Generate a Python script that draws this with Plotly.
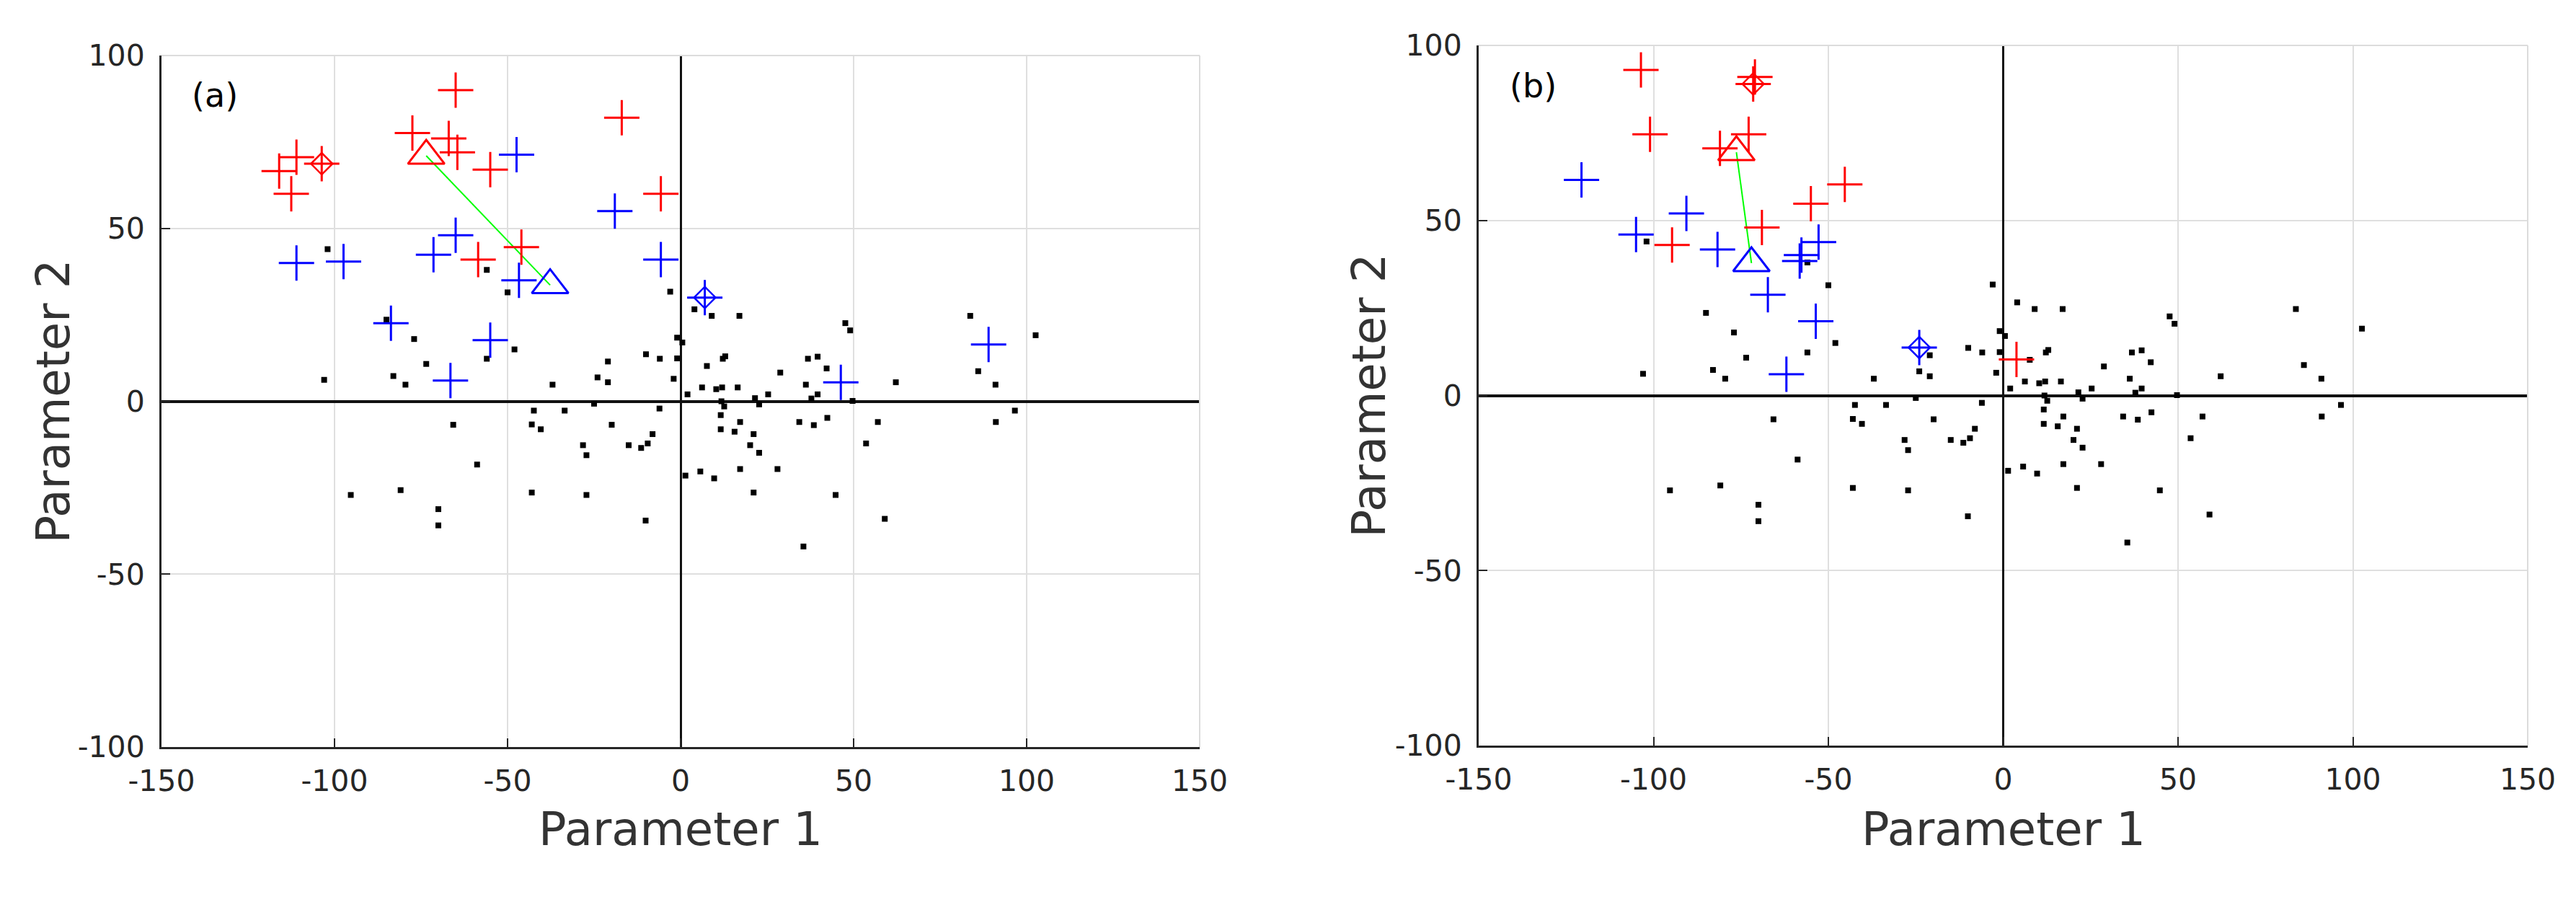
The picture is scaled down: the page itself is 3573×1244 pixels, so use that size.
import plotly.graph_objects as go

# shared background samples (black dots), identical in both panels
dots_x = [-102, -56, -50, -3, -85, -77, -48, -1, 0.5, -73.5, -56, -21, -10, -6, -1,
          -103, -83, -79.5, -37, -24, -21, -2, -25, 4, 9, 17, 47.6, 49, 83.7, 102.6,
          7.6, 12.2, 12.9, 36.8, 39.6, 42.2, 28.8, 6.2, 10.3, 12, 16.5, 36.2, 39.6, 2,
          25.3, 37.8, 62.2, 86, 91, 49.7, 11.8, 12.6, 21.5, 22.7, 96.6, 91.1, -42.4,
          -33.5, -6.1, -65.7, -43, -40.4, -19.9, -8.1, -28.2, -27.2, -15, -11.4, -9.5,
          -58.8, 11.6, 17.2, 11.6, 15.6, 21.1, 20.1, 22.7, 17.2, 28, 1.4, 5.7, 9.7,
          34.3, 38.5, 42.4, 57, 53.6, -95.3, -80.9, -43, -27.2, 21.1, 44.8, -70, -70,
          -10.1, 59, 35.5]
dots_y = [44, 38, 31.5, 31.7, 23.6, 18, 15, 18.4, 17, 10.8, 12.3, 11.5, 13.6, 12.3, 12.4,
          6.2, 7.3, 4.8, 4.8, 6.9, 5.5, 6.5, -0.7, 26.6, 24.7, 24.7, 22.6, 20.5, 24.7, 19.1,
          10.2, 12.3, 13, 12.3, 12.9, 9.5, 8.3, 4, 3.5, 4, 4, 4.8, 2, 2,
          2, 0.8, 5.5, 8.7, 4.8, 0.1, 0, -1.5, 0.9, -0.9, -2.7, -6, -2.7,
          -2.7, -2.1, -6.8, -6.7, -8.1, -6.8, -9.5, -12.7, -15.6, -12.7, -13.5, -12.2,
          -18.3, -4, -6, -8.1, -8.8, -9.5, -12.7, -14.9, -19.6, -19.6, -21.5, -20.3, -22.3,
          -6, -6.9, -4.8, -6, -12.2, -27.1, -25.7, -26.4, -27.1, -26.4, -27.1, -31.2, -35.9,
          -34.5, -34, -42]

# panel (a)
a_red_x = [-65, -17, -77.5, -67, -64.5, -111, -116, -103.7, -55, -112.5, -5.7, -46, -58.5]
a_red_y = [90, 82, 77.6, 76, 72, 70.6, 66.6, 68.7, 67, 60, 60, 44.6, 41]
a_blue_x = [-47.4, -19, -65, -71.4, -5.7, -111, -97.4, -46.7, -83.7, -55, -66.5, 7, 89, 46.3]
a_blue_y = [71.3, 55, 48, 42.4, 41, 40, 40.4, 35, 22.6, 17.7, 6, 30, 16.4, 5.5]
a_red_sel = ([-103.7], [68.7])
a_blue_sel = ([7], [30])
a_tri_x = [-73.5, -37.7]
a_tri_y = [71, 33.6]

# panel (b)
b_red_x = [-103.6, -71, -71.5, -101, -72.8, -81, -45.3, -55, -69, -94.7, 3.8]
b_red_y = [93, 91, 89, 74.6, 74.6, 70.6, 60.3, 54.8, 48, 43, 10.3]
b_blue_x = [-120.6, -90.6, -105, -81.7, -52.8, -57.7, -58.2, -67.3, -53.6, -62, -24]
b_blue_y = [61.6, 52, 46, 41.7, 43.8, 40.1, 38.4, 28.8, 21.2, 6.1, 13.7]
b_red_sel = ([-71.5], [89])
b_blue_sel = ([-24], [13.7])
b_tri_x = [-76.3, -72]
b_tri_y = [69.5, 37.8]

x_ticks = [-150, -100, -50, 0, 50, 100, 150]
y_ticks = [-100, -50, 0, 50, 100]
panel_labels = ["(a)", "(b)"]

RED = "#ff0000"
BLUE = "#0000ff"
GREEN = "#00ff00"
AXIS = "#262626"
FONT = "DejaVu Sans"


def add_panel(fig, n, red, blue, red_sel, blue_sel, tri_x, tri_y):
    """Draw one panel onto axes x{n}/y{n}"""
    xa = "x" if n == 1 else f"x{n}"
    ya = "y" if n == 1 else f"y{n}"
    common = dict(xaxis=xa, yaxis=ya, showlegend=False, hoverinfo="x+y")

    fig.add_trace(go.Scatter(x=dots_x, y=dots_y, mode="markers",
                             marker=dict(symbol="square", size=8, color="black"), **common))
    fig.add_trace(go.Scatter(x=tri_x, y=tri_y, mode="lines",
                             line=dict(color=GREEN, width=2), **common))
    for (xs, ys), col in ((red, RED), (blue, BLUE)):
        fig.add_trace(go.Scatter(x=xs, y=ys, mode="markers",
                                 marker=dict(symbol="cross-thin", size=35,
                                             line=dict(color=col, width=3)), **common))
    for (xs, ys), col in ((red_sel, RED), (blue_sel, BLUE)):
        fig.add_trace(go.Scatter(x=xs, y=ys, mode="markers",
                                 marker=dict(symbol="diamond-open", size=23, color=col,
                                             line=dict(width=2.5)), **common))
    for i, col in enumerate((RED, BLUE)):
        fig.add_trace(go.Scatter(x=[tri_x[i]], y=[tri_y[i]], mode="markers",
                                 marker=dict(symbol="triangle-up-open", size=44, color=col,
                                             line=dict(width=3)), **common))


fig = go.Figure()
add_panel(fig, 1, (a_red_x, a_red_y), (a_blue_x, a_blue_y), a_red_sel, a_blue_sel, a_tri_x, a_tri_y)
add_panel(fig, 2, (b_red_x, b_red_y), (b_blue_x, b_blue_y), b_red_sel, b_blue_sel, b_tri_x, b_tri_y)

W, H = 3573, 1244
OFF = 8  # the page body adds an 8px margin, so pull everything back by that much
# plot areas in screen pixels: (left, right, top, bottom)
boxes = [(224, 1664, 77, 1036), (2051, 3506, 63, 1034)]
ytitle_x = [73, 1898]


def px_x(v):
    return (v - OFF) / W


def px_y(v):
    return 1 - (v - OFF) / H


axis_style = dict(
    showgrid=True, gridcolor="#dfdfdf", gridwidth=2,
    zeroline=True, zerolinecolor="#111111",
    showline=True, linecolor=AXIS, linewidth=3, mirror=False,
    ticks="inside", ticklen=12, tickwidth=2, tickcolor=AXIS,
    tickfont=dict(family=FONT, size=41, color=AXIS),
    automargin=False,
)

layout = dict(width=W, height=H, autosize=False, margin=dict(l=0, r=0, t=0, b=0),
              plot_bgcolor="white", paper_bgcolor="white")
annotations = []
shapes = []
for i, (l, r, t, b) in enumerate(boxes):
    n = "" if i == 0 else str(i + 1)
    layout[f"xaxis{n}"] = dict(axis_style, domain=[px_x(l), px_x(r)], range=[-150, 150],
                               tickvals=x_ticks, ticktext=[str(v) for v in x_ticks],
                               zerolinewidth=2.5, anchor=f"y{n}", ticklabelstandoff=9)
    layout[f"yaxis{n}"] = dict(axis_style, domain=[px_y(b), px_y(t)], range=[-100, 100],
                               tickvals=y_ticks, ticktext=[str(v) for v in y_ticks],
                               zerolinewidth=3.5, anchor=f"x{n}", ticklabelstandoff=12)
    # light top and right frame
    shapes.append(dict(type="line", xref=f"x{n} domain", yref=f"y{n} domain",
                       x0=0, x1=1, y0=1, y1=1, line=dict(color="#dcdcdc", width=2)))
    shapes.append(dict(type="line", xref=f"x{n} domain", yref=f"y{n} domain",
                       x0=1, x1=1, y0=0, y1=1, line=dict(color="#dcdcdc", width=2)))
    annotations.append(dict(text=panel_labels[i], xref=f"x{n}", yref=f"y{n}", x=-134.5, y=88.5,
                            xanchor="center", yanchor="middle", showarrow=False,
                            font=dict(family=FONT, size=46, color="black")))
    annotations.append(dict(text="Parameter 1", xref="paper", yref="paper",
                            x=px_x((l + r) / 2), y=px_y(1150), xanchor="center", yanchor="middle",
                            showarrow=False, font=dict(family=FONT, size=64, color="#333333")))
    annotations.append(dict(text="Parameter 2", xref="paper", yref="paper", textangle=-90,
                            x=px_x(ytitle_x[i]), y=px_y((t + b) / 2), xanchor="center",
                            yanchor="middle", showarrow=False,
                            font=dict(family=FONT, size=64, color="#333333")))

layout["annotations"] = annotations
layout["shapes"] = shapes
fig.update_layout(**layout)

fig.write_html("out.html")
